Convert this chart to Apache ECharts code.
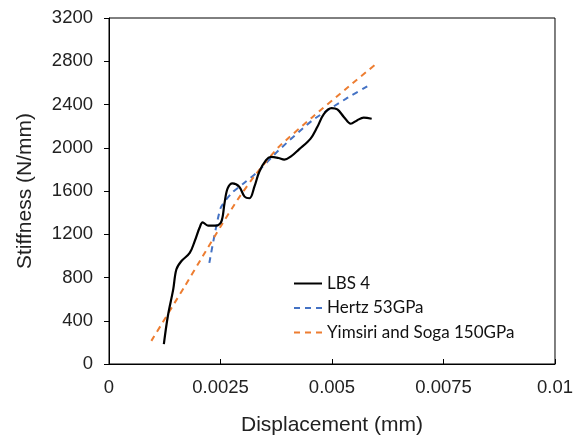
<!DOCTYPE html>
<html>
<head>
<meta charset="utf-8">
<script src="https://cdn.jsdelivr.net/npm/echarts@6/dist/echarts.min.js"></script>
<style>html,body{margin:0;padding:0;background:#fff;}#c{width:576px;height:441px;}</style>
</head>
<body>
<div id="c"></div>
<script>
const seriesNames = ['LBS 4', 'Hertz 53GPa', 'Yimsiri and Soga 150GPa'];
const lbsX = [0.00123,0.00132,0.00144,0.00151,0.00162,0.00181,0.00192,0.00203,0.00210,0.00222,0.00240,0.00252,0.00259,0.00266,0.00277,0.00292,0.00304,0.00315,0.00326,0.00337,0.00352,0.00363,0.00380,0.00393,0.00408,0.00426,0.00452,0.00467,0.00482,0.00499,0.00512,0.00527,0.00542,0.00556,0.00571,0.00589];
const lbsY = [184,444,690,874,950,1027,1134,1260,1310,1280,1280,1318,1487,1625,1671,1640,1548,1533,1640,1778,1885,1915,1905,1890,1920,1985,2084,2191,2314,2366,2354,2283,2222,2253,2278,2268];
const hertzX = [0.00225,0.00250,0.00275,0.00300,0.00330,0.00380,0.00456,0.00531,0.00579];
const hertzY = [935,1440,1580,1665,1765,1975,2253,2452,2568];
const ysX = [0.00095,0.00170,0.00210,0.00250,0.00290,0.00330,0.00380,0.00456,0.00531,0.00601];
const ysY = [214,720,996,1270,1530,1760,2005,2283,2544,2783];
const xMin = 0, xMax = 0.01, xStep = 0.0025;
const yMin = 0, yMax = 3200, yStep = 400;

const pairs = (xs, ys) => xs.map((x, i) => [x, ys[i]]);
const labelFont = 'Liberation Sans, Arial, sans-serif';
const chart = echarts.init(document.getElementById('c'), null, {renderer: 'canvas'});
chart.setOption({
  animation: false,
  backgroundColor: '#fff',
  grid: {left: 109, right: 19, top: 18, bottom: 76, show: true, borderColor: '#000', borderWidth: 1},
  legend: {
    orient: 'vertical', left: 288, top: 270, itemWidth: 28, itemHeight: 14, itemGap: 7.5,
    itemStyle: {opacity: 0},
    textStyle: {fontFamily: 'Lato, Carlito, sans-serif', fontSize: 17, color: '#111'},
    data: seriesNames
  },
  xAxis: {
    type: 'value', min: xMin, max: xMax, interval: xStep,
    name: 'Displacement (mm)', nameLocation: 'middle', nameGap: 51,
    nameTextStyle: {fontFamily: labelFont, fontSize: 21, color: '#222'},
    axisLine: {lineStyle: {color: '#000', width: 1}},
    axisTick: {inside: true, length: 5, lineStyle: {color: '#000'}},
    axisLabel: {fontFamily: labelFont, fontSize: 18.5, color: '#222', margin: 14,
      formatter: v => String(+v.toFixed(6))},
    splitLine: {show: false}
  },
  yAxis: {
    type: 'value', min: yMin, max: yMax, interval: yStep,
    name: 'Stiffness (N/mm)', nameLocation: 'middle', nameGap: 73, nameRotate: 90,
    nameTextStyle: {fontFamily: labelFont, fontSize: 21, color: '#222'},
    axisLine: {show: true, lineStyle: {color: '#000', width: 1}},
    axisTick: {show: true, inside: false, length: 5, lineStyle: {color: '#000'}},
    axisLabel: {fontFamily: labelFont, fontSize: 18.5, color: '#222', margin: 16,
      formatter: v => String(v)},
    splitLine: {show: false}
  },
  series: [
    {name: seriesNames[0], type: 'line', data: pairs(lbsX, lbsY), smooth: 0.35, symbol: 'none',
     lineStyle: {color: '#000', width: 2.2}, itemStyle: {color: '#000'}, z: 3},
    {name: seriesNames[1], type: 'line', data: pairs(hertzX, hertzY), smooth: 0.2, symbol: 'none',
     lineStyle: {color: '#4472C4', width: 2, type: [6, 5]}, itemStyle: {color: '#4472C4'}, z: 2},
    {name: seriesNames[2], type: 'line', data: pairs(ysX, ysY), smooth: 0.2, symbol: 'none',
     lineStyle: {color: '#ED7D31', width: 2, type: [6, 5]}, itemStyle: {color: '#ED7D31'}, z: 2}
  ]
});
</script>
</body>
</html>
